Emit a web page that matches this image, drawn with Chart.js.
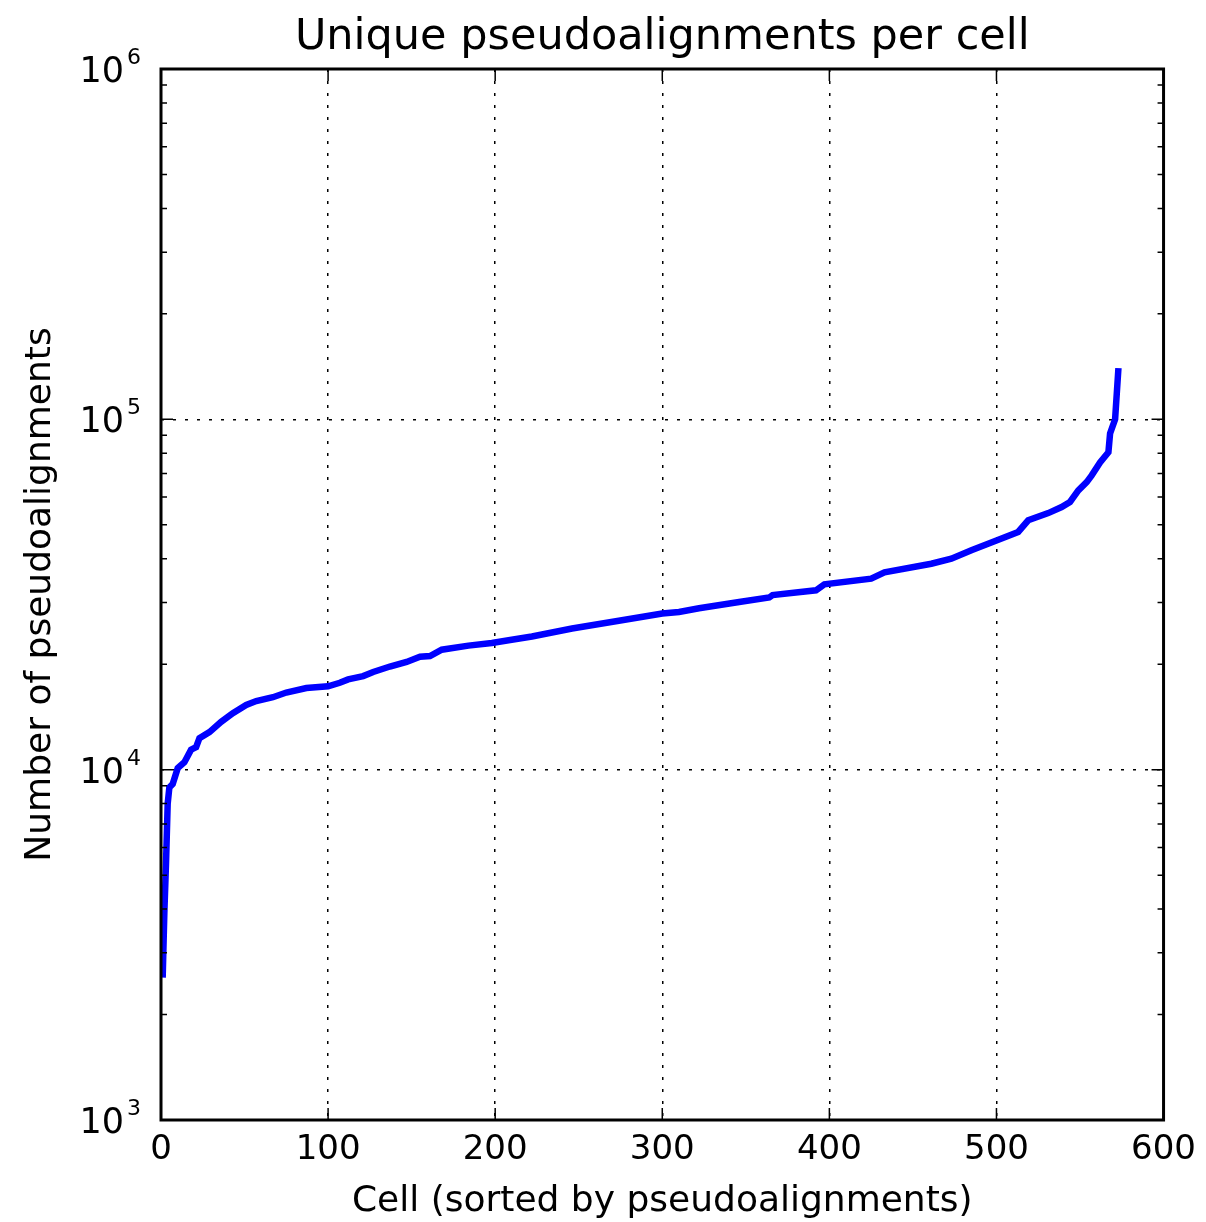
<!DOCTYPE html>
<html lang="en">
<head>
  <meta charset="UTF-8"/>
  <title>Unique pseudoalignments per cell</title>
  <script src="https://cdn.jsdelivr.net/npm/chart.js"></script>
  <style>
    body { margin: 0; background: #fff; }
    #chart { display: block; }
  </style>
</head>
<body>
  <canvas id="chart" width="1206" height="1222"></canvas>
  <script>
    // cells sorted by number of unique pseudoalignments
    const cellIndex = [1, 2, 3, 4, 5, 7, 10, 14, 18, 21, 23, 29, 36, 43, 51, 57, 67, 75, 87, 100,
      107, 112, 121, 127, 137, 147, 155, 161, 168, 184, 198, 208, 222, 246, 274, 300, 310, 322,
      346, 364, 366, 392, 397, 425, 433, 461, 473, 485, 500, 513, 519, 531, 539, 544, 549, 554,
      557, 562, 567, 568, 571, 573];
    const pseudoCounts = [2550, 3900, 5400, 8000, 8900, 9100, 10100, 10500, 11400, 11600, 12300,
      12800, 13700, 14500, 15300, 15700, 16100, 16600, 17100, 17300, 17700, 18100, 18500, 19000,
      19700, 20300, 21000, 21100, 22000, 22600, 23000, 23400, 24000, 25300, 26600, 27900, 28200,
      28900, 30100, 31000, 31500, 32500, 33800, 35100, 36600, 38700, 40000, 42300, 45100, 47700,
      51500, 54000, 56200, 58100, 62700, 66200, 69200, 75300, 80500, 91200, 100000, 140000];

    const xTicks = [0, 100, 200, 300, 400, 500, 600];
    const yMajor = [1e3, 1e4, 1e5, 1e6];
    const yTickBase = '10';
    const yTickExp = ['3', '4', '5', '6'];

    const FONT = 'DejaVu Sans';
    const isMajorY = v => yMajor.includes(v);

    // matplotlib-style frame, inward ticks on all four sides, 10^n labels
    const frameTicks = {
      id: 'frameTicks',
      afterLayout(chart) {
        // centre the title over the plot area, not the whole canvas
        if (chart.titleBlock) {
          chart.titleBlock.left = chart.chartArea.left;
          chart.titleBlock.right = chart.chartArea.right;
        }
      },
      afterDraw(chart) {
        const { ctx, chartArea: a, scales } = chart;
        ctx.save();
        ctx.strokeStyle = '#000';
        ctx.lineWidth = 1.5;
        ctx.beginPath();
        xTicks.forEach(v => {
          const x = scales.x.getPixelForValue(v);
          ctx.moveTo(x, a.bottom); ctx.lineTo(x, a.bottom - 12);
          ctx.moveTo(x, a.top); ctx.lineTo(x, a.top + 12);
        });
        scales.y.ticks.forEach(t => {
          const y = scales.y.getPixelForValue(t.value);
          const len = isMajorY(t.value) ? 12 : 6;
          ctx.moveTo(a.left, y); ctx.lineTo(a.left + len, y);
          ctx.moveTo(a.right, y); ctx.lineTo(a.right - len, y);
        });
        ctx.stroke();
        ctx.lineWidth = 3;
        ctx.strokeRect(a.left, a.top, a.right - a.left, a.bottom - a.top);

        ctx.fillStyle = '#000';
        ctx.textAlign = 'right';
        ctx.textBaseline = 'alphabetic';
        yMajor.forEach((v, i) => {
          const y = scales.y.getPixelForValue(v);
          const xr = a.left - 20;
          ctx.font = '22px "' + FONT + '"';
          const ew = ctx.measureText(yTickExp[i]).width;
          ctx.fillText(yTickExp[i], xr, y - 5);
          ctx.font = '35px "' + FONT + '"';
          ctx.fillText(yTickBase, xr - ew - 3, y + 13);
        });
        ctx.restore();
      }
    };

    new Chart(document.getElementById('chart'), {
      type: 'line',
      data: {
        datasets: [{
          data: cellIndex.map((c, i) => ({ x: c, y: pseudoCounts[i] })),
          borderColor: '#0000ff',
          borderWidth: 6.5,
          pointRadius: 0,
          tension: 0,
          fill: false
        }]
      },
      options: {
        responsive: false,
        animation: false,
        devicePixelRatio: 1,
        layout: { padding: { left: 0, right: 40, top: 0, bottom: 0 } },
        plugins: {
          legend: { display: false },
          tooltip: { enabled: false },
          title: {
            display: true,
            text: 'Unique pseudoalignments per cell',
            color: '#000',
            font: { family: FONT, size: 43, weight: 'normal', lineHeight: 1 },
            padding: { top: 16, bottom: 10 }
          }
        },
        scales: {
          x: {
            type: 'linear',
            min: 0, max: 600,
            afterBuildTicks: s => { s.ticks = xTicks.map(v => ({ value: v })); },
            afterFit: s => { s.height = 102; },
            ticks: { color: '#000', font: { family: FONT, size: 34 }, padding: 10, maxRotation: 0 },
            grid: {
              drawTicks: false,
              lineWidth: 1.5,
              color: c => (c.tick && c.tick.value > 0 && c.tick.value < 600) ? '#000' : 'rgba(0,0,0,0)'
            },
            border: { display: false, dash: [3, 9] },
            title: {
              display: true,
              text: 'Cell (sorted by pseudoalignments)',
              color: '#000',
              font: { family: FONT, size: 36, lineHeight: 1.15 },
              padding: { top: 0, bottom: 0 }
            }
          },
          y: {
            type: 'logarithmic',
            min: 1e3, max: 1e6,
            afterBuildTicks: s => {
              const t = [];
              for (let e = 3; e < 6; e++) {
                for (let m = 1; m < 10; m++) t.push({ value: m * Math.pow(10, e) });
              }
              t.push({ value: 1e6 });
              s.ticks = t;
            },
            afterFit: s => { s.width = 161; },
            // labels are drawn by the frameTicks plugin as 10 + raised exponent
            ticks: { autoSkip: false, display: false },
            grid: {
              drawTicks: false,
              lineWidth: 1.5,
              color: c => (c.tick && isMajorY(c.tick.value) && c.tick.value > 1e3 && c.tick.value < 1e6) ? '#000' : 'rgba(0,0,0,0)'
            },
            border: { display: false, dash: [3, 9] },
            title: {
              display: true,
              text: 'Number of pseudoalignments',
              color: '#000',
              font: { family: FONT, size: 36 },
              padding: { top: 19, bottom: 0 }
            }
          }
        }
      },
      plugins: [frameTicks]
    });
  </script>
</body>
</html>
